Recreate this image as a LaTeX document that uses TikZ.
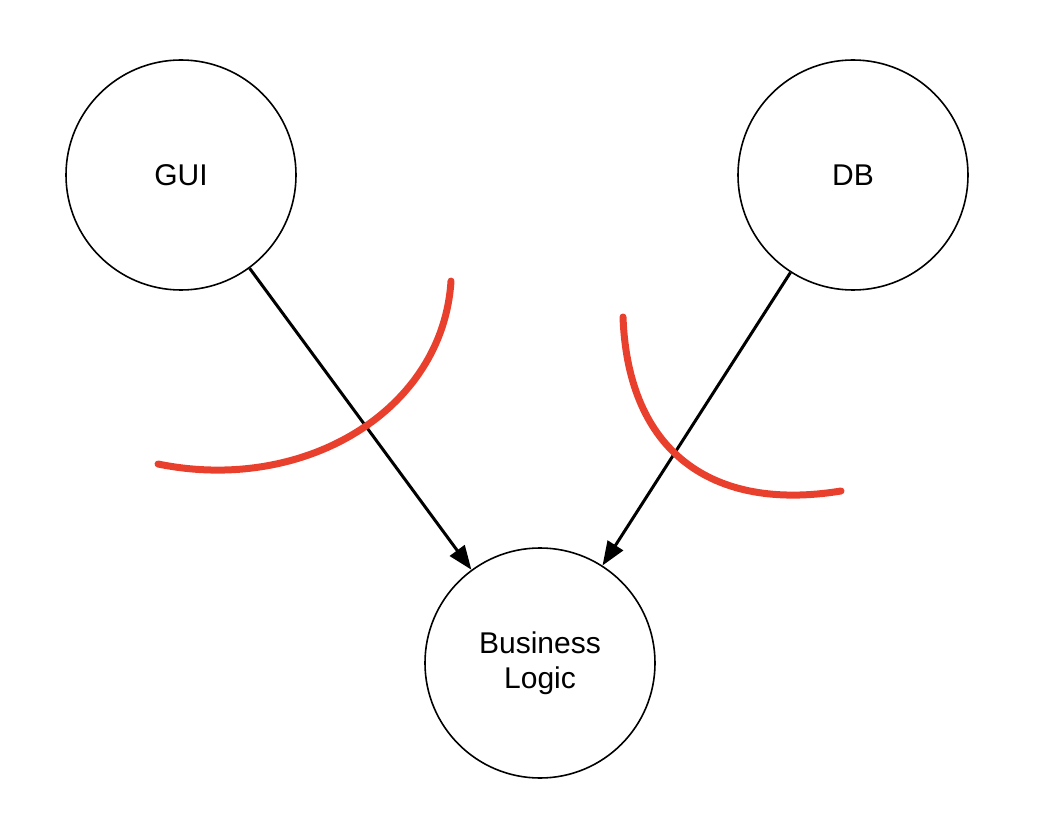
\documentclass[tikz,border=0pt]{standalone}
\usepackage{fontspec}
\setmainfont{Liberation Sans}
\usetikzlibrary{arrows.meta}
\definecolor{cutred}{RGB}{233,64,46}
\begin{document}
\begin{tikzpicture}[x=1pt,y=-1pt,
  comp/.style={draw=black,line width=1.6pt,circle,minimum size=230pt,inner sep=0pt,
    font=\fontsize{30}{35}\selectfont,align=center},
  dep/.style={draw=black,line width=3pt,-{Triangle[length=24pt,width=18pt]}},
  cut/.style={draw=cutred,line width=7pt,line cap=round}]
\useasboundingbox (0,0) rectangle (1050,826);
\node[comp] (gui) at (181,175) {GUI};
\node[comp] (db) at (853,175) {DB};
\node[comp] (bl) at (540,663) {Business\\Logic};
\draw[dep] (gui) -- (bl);
\draw[dep] (db) -- (bl);
\coordinate (l1) at (158,464);
\coordinate (l2) at (451,281);
\coordinate (r1) at (623,317);
\coordinate (r2) at (841,491);
\draw[cut] (l1) .. controls (305,494) and (443,410) .. (l2);
\draw[cut] (r1) .. controls (628,452) and (712,512) .. (r2);
\end{tikzpicture}
\end{document}
